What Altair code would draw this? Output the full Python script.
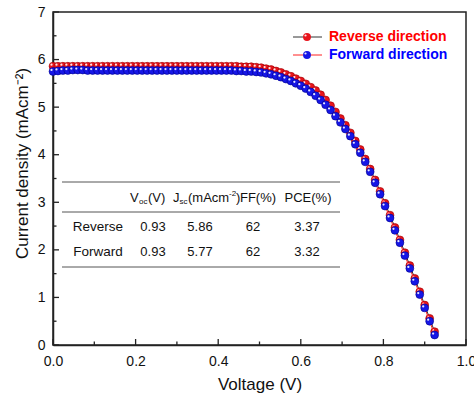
import altair as alt
import pandas as pd

# ---------------- data ----------------
voltage = [0.000, 0.012, 0.024, 0.036, 0.048, 0.060, 0.072, 0.084, 0.096, 0.108,
           0.120, 0.132, 0.144, 0.156, 0.168, 0.180, 0.192, 0.204, 0.216, 0.228,
           0.240, 0.252, 0.264, 0.276, 0.288, 0.300, 0.312, 0.324, 0.336, 0.348,
           0.360, 0.372, 0.384, 0.396, 0.408, 0.420, 0.432, 0.444, 0.456, 0.468,
           0.480, 0.492, 0.504, 0.516, 0.528, 0.540, 0.552, 0.564, 0.576, 0.588,
           0.600, 0.612, 0.624, 0.636, 0.648, 0.660, 0.672, 0.684, 0.696, 0.708,
           0.720, 0.732, 0.744, 0.756, 0.768, 0.780, 0.792, 0.804, 0.816, 0.828,
           0.840, 0.852, 0.864, 0.876, 0.888, 0.900, 0.912, 0.924]

j_reverse = [5.86, 5.86, 5.86, 5.86, 5.86, 5.86, 5.86, 5.86, 5.86, 5.86,
             5.86, 5.86, 5.86, 5.86, 5.86, 5.86, 5.86, 5.86, 5.86, 5.86,
             5.86, 5.86, 5.86, 5.86, 5.86, 5.86, 5.86, 5.86, 5.86, 5.86,
             5.86, 5.86, 5.86, 5.86, 5.86, 5.86, 5.86, 5.86, 5.85, 5.85,
             5.85, 5.84, 5.83, 5.81, 5.79, 5.76, 5.73, 5.69, 5.65, 5.60,
             5.55, 5.49, 5.42, 5.35, 5.26, 5.15, 5.03, 4.90, 4.76, 4.62,
             4.46, 4.29, 4.11, 3.91, 3.70, 3.47, 3.23, 2.98, 2.73, 2.47,
             2.21, 1.94, 1.67, 1.40, 1.12, 0.84, 0.56, 0.28]

j_forward = [5.75, 5.76, 5.77, 5.77, 5.78, 5.78, 5.78, 5.77, 5.77, 5.77,
             5.77, 5.77, 5.77, 5.77, 5.77, 5.77, 5.77, 5.77, 5.77, 5.77,
             5.77, 5.77, 5.77, 5.77, 5.77, 5.77, 5.77, 5.77, 5.77, 5.77,
             5.77, 5.77, 5.77, 5.77, 5.77, 5.77, 5.77, 5.76, 5.76, 5.75,
             5.75, 5.74, 5.73, 5.71, 5.69, 5.66, 5.63, 5.59, 5.55, 5.50,
             5.45, 5.39, 5.32, 5.24, 5.15, 5.05, 4.94, 4.81, 4.68, 4.54,
             4.39, 4.22, 4.04, 3.85, 3.64, 3.41, 3.17, 2.92, 2.67, 2.41,
             2.15, 1.88, 1.61, 1.34, 1.06, 0.78, 0.50, 0.21]

x_major = [0.0, 0.2, 0.4, 0.6, 0.8, 1.0]
x_minor = [0.1, 0.3, 0.5, 0.7, 0.9]
y_major = [0, 1, 2, 3, 4, 5, 6, 7]
y_minor = [0.5, 1.5, 2.5, 3.5, 4.5, 5.5, 6.5]

series_names = ["Reverse direction", "Forward direction"]
table_rows = ["Reverse", "Forward"]
table_voc = ["0.93", "0.93"]
table_jsc = ["5.86", "5.77"]
table_ff = ["62", "62"]
table_pce = ["3.37", "3.32"]

# ---------------- layout ----------------
W, H = 413, 333
FONT = "Liberation Sans"
RED = "#e8141c"
BLUE = "#1616e6"

xs = alt.Scale(domain=[0, 1], nice=False, zero=False)
ys = alt.Scale(domain=[0, 7], nice=False, zero=False)
x_axis = alt.Axis(title="Voltage (V)", values=x_major, format=".1f", tickSize=0,
                  labelPadding=9, titlePadding=8, grid=False, labelFlush=False)
y_axis = alt.Axis(title="Current density (mAcm\u207b\u00b2)", values=y_major, format="d",
                  tickSize=0, labelPadding=8, titlePadding=6, grid=False, titleY=151,
                  labelFlush=False)


def X(f):
    return alt.X(f, scale=xs, axis=x_axis)


def Y(f):
    return alt.Y(f, scale=ys, axis=y_axis)


rev = pd.DataFrame({"V": voltage, "J": j_reverse})
fwd = pd.DataFrame({"V": voltage, "J": j_forward})

layers = []
# series
layers.append(alt.Chart(rev).mark_line(color="#333333", strokeWidth=1).encode(x=X("V:Q"), y=Y("J:Q")))
layers.append(alt.Chart(rev).mark_point(filled=True, shape="circle", size=62, color=RED,
                                        stroke="#9a0000", strokeWidth=0.6, opacity=1).encode(x=X("V:Q"), y=Y("J:Q")))
layers.append(alt.Chart(rev).mark_point(filled=True, shape="circle", size=5, color="white",
                                        opacity=0.9, xOffset=-1.5, yOffset=-1.5).encode(x=X("V:Q"), y=Y("J:Q")))
layers.append(alt.Chart(fwd).mark_line(color="#ff2020", strokeWidth=1).encode(x=X("V:Q"), y=Y("J:Q")))
layers.append(alt.Chart(fwd).mark_point(filled=True, shape="circle", size=62, color=BLUE,
                                        stroke="#00008a", strokeWidth=0.6, opacity=1).encode(x=X("V:Q"), y=Y("J:Q")))
layers.append(alt.Chart(fwd).mark_point(filled=True, shape="circle", size=5, color="white",
                                        opacity=0.9, xOffset=-1.5, yOffset=-1.5).encode(x=X("V:Q"), y=Y("J:Q")))

# inward ticks
layers.append(alt.Chart(pd.DataFrame({"V": x_major})).mark_rule(color="#222", strokeWidth=1.3).encode(
    x=X("V:Q"), y=alt.value(H), y2=alt.value(H - 6)))
layers.append(alt.Chart(pd.DataFrame({"V": x_minor})).mark_rule(color="#222", strokeWidth=1.3).encode(
    x=X("V:Q"), y=alt.value(H), y2=alt.value(H - 3.5)))
layers.append(alt.Chart(pd.DataFrame({"J": y_major})).mark_rule(color="#222", strokeWidth=1.3).encode(
    y=Y("J:Q"), x=alt.value(0), x2=alt.value(6)))
layers.append(alt.Chart(pd.DataFrame({"J": y_minor})).mark_rule(color="#222", strokeWidth=1.3).encode(
    y=Y("J:Q"), x=alt.value(0), x2=alt.value(3.5)))

# legend (manual)
leg_y = [25, 43]
leg_line_col = ["#333333", "#ff2020"]
leg_dot_col = [RED, BLUE]
leg_text_col = ["#ff0000", "#0000ff"]
for i, name in enumerate(series_names):
    layers.append(alt.Chart().mark_rule(color=leg_line_col[i], strokeWidth=1).encode(
        x=alt.value(240), x2=alt.value(269), y=alt.value(leg_y[i])))
    layers.append(alt.Chart().mark_point(filled=True, shape="circle", size=62, color=leg_dot_col[i],
                                         opacity=1).encode(x=alt.value(254), y=alt.value(leg_y[i])))
    layers.append(alt.Chart().mark_point(filled=True, shape="circle", size=5, color="white",
                                         opacity=0.9).encode(x=alt.value(252.5), y=alt.value(leg_y[i] - 1.5)))
    layers.append(alt.Chart().mark_text(text=name, font=FONT, fontSize=14, fontWeight="bold",
                                        color=leg_text_col[i], align="left", baseline="middle").encode(
        x=alt.value(276), y=alt.value(leg_y[i])))

# table
for ty in [170, 200, 255]:
    layers.append(alt.Chart().mark_rule(color="#555555", strokeWidth=1).encode(
        x=alt.value(9), x2=alt.value(287), y=alt.value(ty)))


def txt(s, x, y, size=13, align="center", dy=0):
    return alt.Chart().mark_text(text=s, font=FONT, fontSize=size, color="#111111",
                                 align=align, baseline="middle", dy=dy).encode(
        x=alt.value(x), y=alt.value(y))


hy = 186
layers += [
    txt("V", 77, hy, align="left"),
    txt("oc", 86, hy, size=8, align="left", dy=4),
    txt("(V)", 95, hy, align="left"),
    txt("J", 120, hy, align="left"),
    txt("sc", 126.5, hy, size=8, align="left", dy=4),
    txt("(mAcm", 135, hy, align="left"),
    txt("-2", 176, hy, size=8, align="left", dy=-4),
    txt(")", 183, hy, align="left"),
    txt("FF(%)", 205, hy),
    txt("PCE(%)", 255, hy),
]
row_y = [215, 240]
for i in range(2):
    layers += [
        txt(table_rows[i], 45, row_y[i], size=13.5),
        txt(table_voc[i], 100, row_y[i]),
        txt(table_jsc[i], 147, row_y[i]),
        txt(table_ff[i], 200, row_y[i]),
        txt(table_pce[i], 254, row_y[i]),
    ]

chart = alt.layer(*layers).properties(
    width=W, height=H,
    autosize=alt.AutoSizeParams(type="none"),
    padding={"left": 53, "top": 12, "right": 8, "bottom": 54},
    background="white",
).configure_view(
    stroke="#222222", strokeWidth=1.5
).configure_axis(
    labelFont=FONT, titleFont=FONT, labelFontSize=14, titleFontSize=17,
    labelColor="#111111", titleColor="#111111", titleFontWeight="normal",
    domainColor="#222222", domainWidth=1.5,
)

chart.save("out.html", embed_options={"renderer": "svg", "actions": False})
